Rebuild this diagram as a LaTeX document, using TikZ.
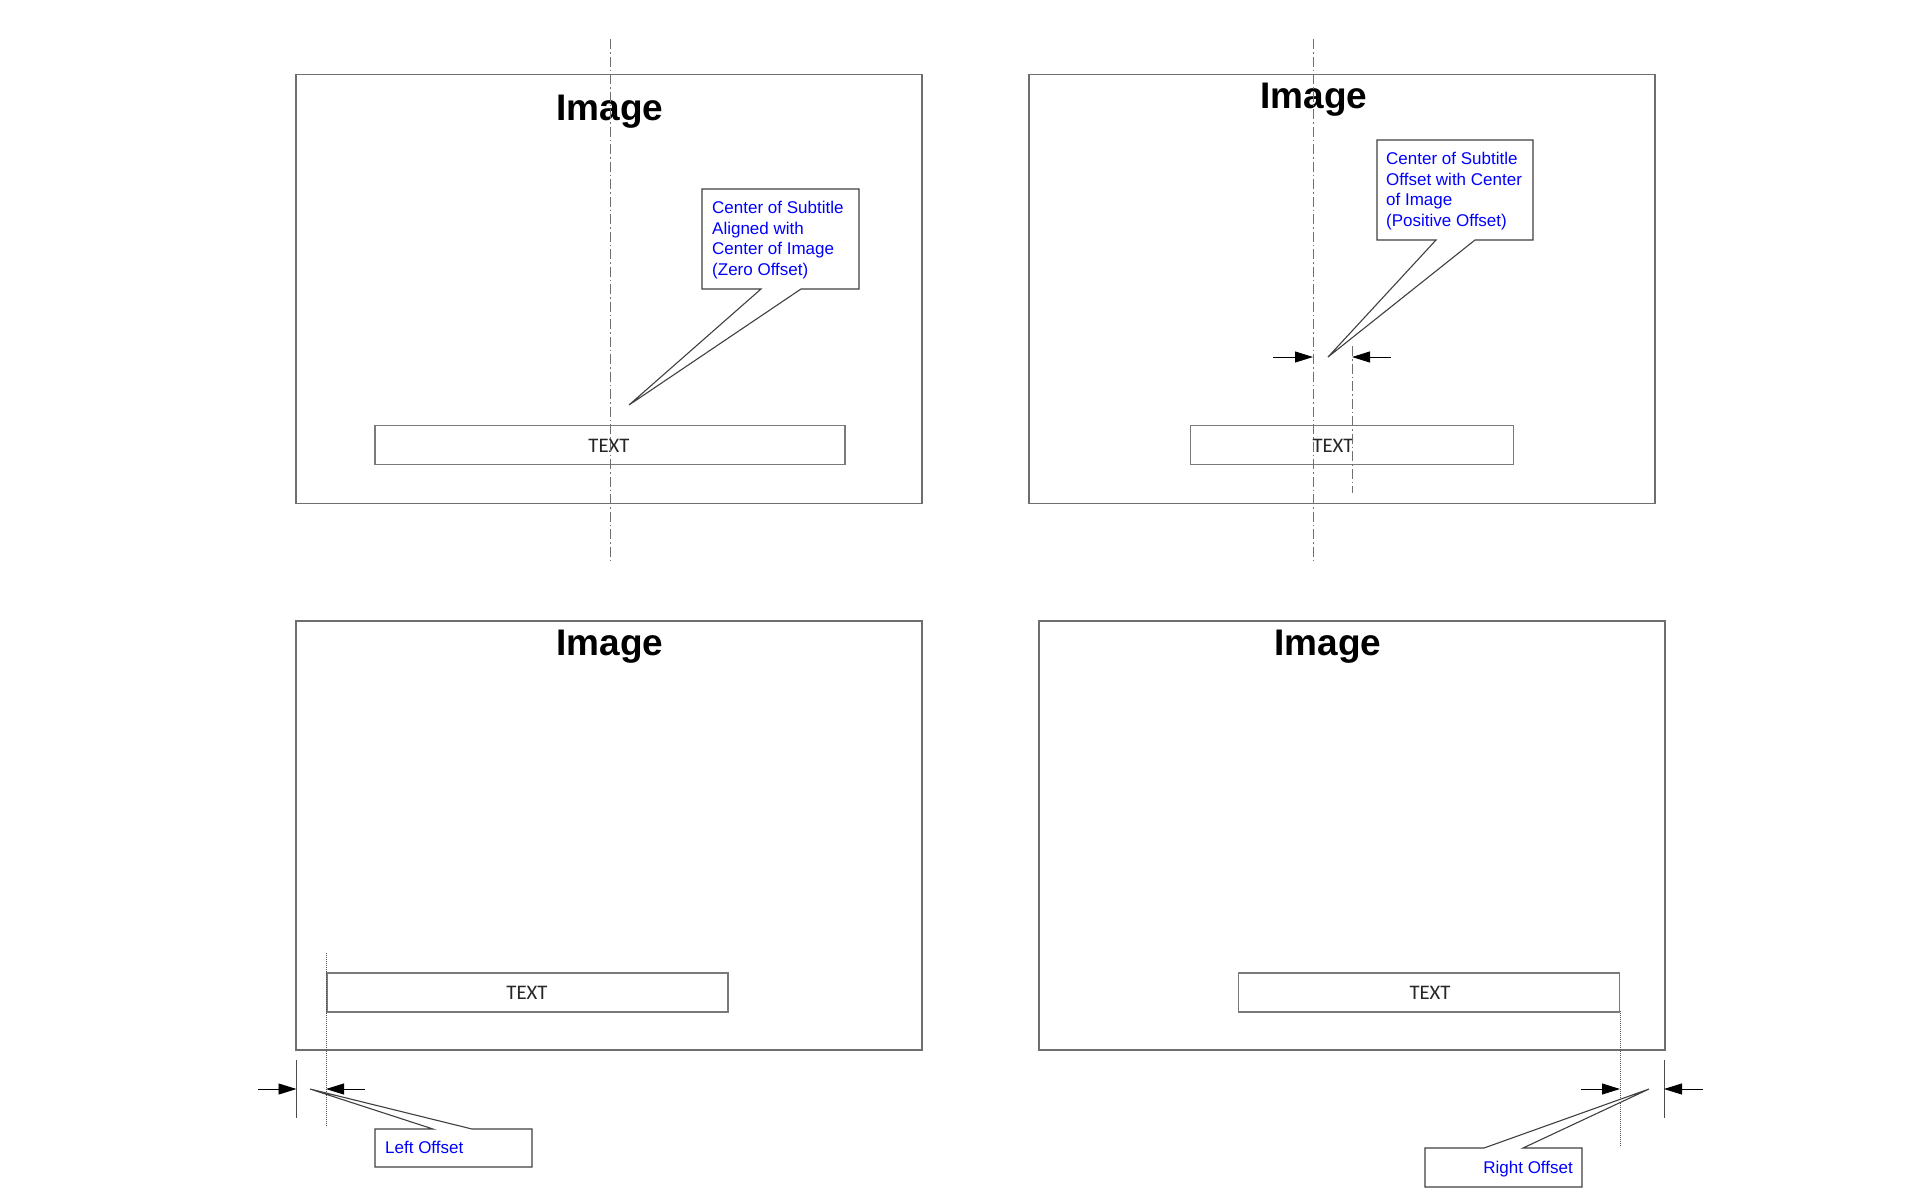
\documentclass[tikz,border=0pt]{standalone}
\usepackage{fontspec}
\setmainfont{Liberation Sans}
\newfontfamily\calfont{Carlito}
\usetikzlibrary{arrows.meta}
\definecolor{framegray}{HTML}{6E6E6E}
\definecolor{boxgray}{HTML}{7A7A7A}
\definecolor{callgray}{HTML}{404040}
\definecolor{axisgray}{HTML}{707070}
\definecolor{dotgray}{HTML}{505050}
\tikzset{
  panel/.style={draw=framegray, line width=1.4pt, inner sep=0pt, minimum width=626pt, minimum height=429pt},
  subbox/.style={draw=boxgray, line width=1.5pt, inner sep=0pt},
  subtext/.style={font=\calfont\fontsize{20.7}{24}\selectfont, text=black!85, inner sep=0pt, anchor=base},
  title/.style={font=\bfseries\fontsize{37}{40}\selectfont, inner sep=0pt, anchor=base},
  callout/.style={draw=callgray, fill=white, line width=1.1pt, line join=miter},
  calltext/.style={font=\fontsize{17}{20.7}\selectfont, text=blue, inner sep=0pt, align=left},
  axis/.style={draw=axisgray, line width=0.9pt, dash pattern=on 10pt off 3pt on 1.5pt off 3pt},
  dotline/.style={draw=dotgray, line width=0.9pt, dash pattern=on 1.2pt off 0.8pt},
  extline/.style={draw=black!70, line width=0.9pt},
  dimarrow/.style={draw=black, line width=0.9pt, -{Triangle[length=18pt, width=11pt]}}
}
\begin{document}
\begin{tikzpicture}[x=1pt, y=-1pt]
\useasboundingbox (0,0) rectangle (1920,1200);

% ---------- Panel 1 ----------
\node[panel] (p1) at (609,289) {};
\node[title] (i1) at (610,120) {Image};
\node[subbox, minimum width=470pt, minimum height=39pt] (b1) at (610,445) {};
\node[subtext] (s1) at (609,452) {TEXT};
\coordinate (a1t) at (610,39);
\coordinate (a1b) at (610,563);
\draw[axis] (a1t) -- (a1b);
\coordinate (k1) at (629,405);
\draw[callout] (702,189) -- (859,189) -- (859,289) -- (801,289) -- (k1) -- (761,289) -- (702,289) -- cycle;
\node[calltext, anchor=north west] (c1) at (712,200.8) {Center of Subtitle\\Aligned with\\Center of Image\\(Zero Offset)};

% ---------- Panel 2 ----------
\node[panel] (p2) at (1342,289) {};
\node[title] (i2) at (1314,108) {Image};
\node[subbox, minimum width=323pt, minimum height=39pt] (b2) at (1352,445) {};
\node[subtext] (s2) at (1333,452) {TEXT};
\coordinate (a2t) at (1313,39);
\coordinate (a2b) at (1313,563);
\draw[axis] (a2t) -- (a2b);
\coordinate (a3t) at (1352,346);
\coordinate (a3b) at (1352,493);
\draw[axis] (a3t) -- (a3b);
\coordinate (k2) at (1328,357);
\draw[callout] (1377,140) -- (1533,140) -- (1533,240) -- (1475,240) -- (k2) -- (1436,240) -- (1377,240) -- cycle;
\node[calltext, anchor=north west] (c2) at (1386,151.8) {Center of Subtitle\\Offset with Center\\of Image\\(Positive Offset)};
\coordinate (d2a) at (1273,357);
\coordinate (d2b) at (1313,357);
\coordinate (d2c) at (1391,357);
\coordinate (d2d) at (1352,357);
\draw[dimarrow] (d2a) -- (d2b);
\draw[dimarrow] (d2c) -- (d2d);

% ---------- Panel 3 ----------
\node[panel] (p3) at (609,835.5) {};
\node[title] (i3) at (610,655) {Image};
\node[subbox, anchor=north west, minimum width=401pt, minimum height=39pt] (b3) at (326,972) {};
\node[subtext] (s3) at (527,999) {TEXT};
\coordinate (e3a) at (296.5,1060);
\coordinate (e3b) at (296.5,1118);
\draw[extline] (e3a) -- (e3b);
\coordinate (e3c) at (326,953);
\coordinate (e3d) at (326,1127);
\draw[dotline] (e3c) -- (e3d);
\coordinate (d3a) at (258,1089);
\coordinate (d3b) at (296.5,1089);
\coordinate (d3c) at (365,1089);
\coordinate (d3d) at (326,1089);
\draw[dimarrow] (d3a) -- (d3b);
\draw[dimarrow] (d3c) -- (d3d);
\coordinate (k3) at (310,1089);
\draw[callout] (375,1129) -- (433,1129) -- (k3) -- (472,1129) -- (532,1129) -- (532,1167) -- (375,1167) -- cycle;
\node[calltext, anchor=base west] (c3) at (385,1153) {Left Offset};

% ---------- Panel 4 ----------
\node[panel] (p4) at (1352,835.5) {};
\node[title] (i4) at (1328,655) {Image};
\node[subbox, anchor=north east, minimum width=381pt, minimum height=39pt] (b4) at (1620,972) {};
\node[subtext] (s4) at (1430,999) {TEXT};
\coordinate (e4a) at (1620,1011);
\coordinate (e4b) at (1620,1147);
\draw[dotline] (e4a) -- (e4b);
\coordinate (e4c) at (1664,1060);
\coordinate (e4d) at (1664,1118);
\draw[extline] (e4c) -- (e4d);
\coordinate (d4a) at (1581,1089);
\coordinate (d4b) at (1620,1089);
\coordinate (d4c) at (1703,1089);
\coordinate (d4d) at (1664,1089);
\draw[dimarrow] (d4a) -- (d4b);
\draw[dimarrow] (d4c) -- (d4d);
\coordinate (k4) at (1649,1089);
\draw[callout] (1425,1148) -- (1484,1148) -- (k4) -- (1523,1148) -- (1582,1148) -- (1582,1187) -- (1425,1187) -- cycle;
\node[calltext, anchor=base east] (c4) at (1573,1173) {Right Offset};
\end{tikzpicture}
\end{document}
